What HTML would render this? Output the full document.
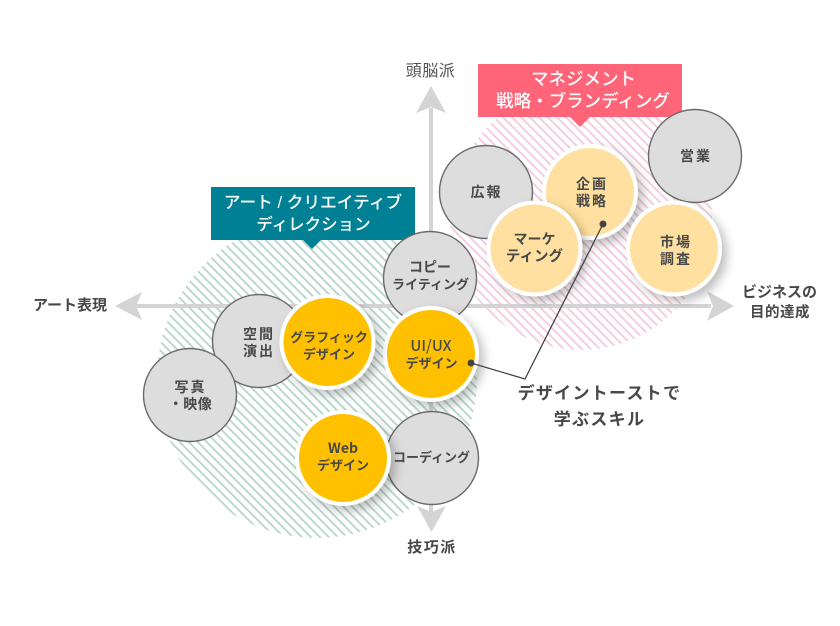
<!DOCTYPE html>
<html><head><meta charset="utf-8">
<style>
html,body{margin:0;padding:0;background:#fff;width:840px;height:626px;overflow:hidden}
svg{display:block}
text{font-family:"Liberation Sans","Noto Sans CJK JP",sans-serif;text-anchor:middle;fill:#484848;font-weight:700;font-size:14px}
.n{font-family:"Noto Sans CJK JP","Liberation Sans",sans-serif}
.w{fill:#fff;font-weight:500}
.s{font-size:13px}
.g{fill:#ddd;stroke:#6a6a6a;stroke-width:1.4}
.y{fill:#ffc000;stroke:#fff;stroke-width:4;filter:url(#s)}
.l{fill:#ffe0a0;stroke:#fff;stroke-width:4;filter:url(#s)}
</style></head><body>
<svg width="840" height="626" viewBox="0 0 840 626" xmlns="http://www.w3.org/2000/svg">
<defs>
<pattern id="pk" width="6.364" height="6.364" patternUnits="userSpaceOnUse" patternTransform="rotate(45)"><rect width="6.364" height="6.364" fill="#fff"/><rect width="6.364" height="1.800" fill="#f3cbdc"/></pattern>
<pattern id="gr" width="6.364" height="6.364" patternUnits="userSpaceOnUse" patternTransform="rotate(45)"><rect width="6.364" height="6.364" fill="#fff"/><rect width="6.364" height="1.800" fill="#b4d6cb"/></pattern>
<filter id="s" x="-30%" y="-30%" width="170%" height="170%"><feDropShadow dx="5" dy="5" stdDeviation="5" flood-color="#000" flood-opacity=".25"/></filter>
</defs>
<circle cx="581" cy="219" r="131" fill="url(#pk)"/>
<circle cx="317" cy="378" r="160" fill="url(#gr)"/>
<g fill="#d4d4d4">
<rect x="136" y="304" width="575" height="4"/>
<rect x="429" y="108" width="4" height="404"/>
<path d="M734 306L707 291L713 306L707 321Z"/>
<path d="M115 306L142 292L136 306L142 320Z"/>
<path d="M431 86L416 113L431 107L446 113Z"/>
<path d="M431.500 532L417 506L431.500 512L446 506Z"/>
</g>
<path d="M478 64H682V117H590L580 127L570 117H478Z" fill="#ff6478"/>
<path d="M211 187H415V240H321L312 249L303 240H211Z" fill="#008094"/>
<text class="w" style="font-size:17.500px" x="583.500" y="85">マネジメント</text>
<text class="w" style="font-size:17.500px" x="583" y="107">戦略・ブランディング</text>
<text class="w" style="font-size:16.700px" x="313" y="208">アート / クリエイティブ</text>
<text class="w" style="font-size:16.500px" x="313.500" y="230">ディレクション</text>
<circle class="g" cx="486" cy="192" r="46.500"/>
<circle class="g" cx="695" cy="156" r="46.500"/>
<circle class="l" cx="590" cy="192" r="46"/>
<circle class="l" cx="534.500" cy="248.500" r="46"/>
<circle class="l" cx="674" cy="248.500" r="46"/>
<circle class="g" cx="430" cy="278" r="46.500"/>
<circle class="y" cx="431" cy="354" r="46"/>
<circle class="g" cx="259" cy="341" r="46.500"/>
<circle class="y" cx="327.500" cy="342" r="46"/>
<circle class="g" cx="190" cy="395" r="46.500"/>
<circle class="g" cx="432" cy="458" r="46.500"/>
<circle class="y" cx="343" cy="458" r="46"/>
<path d="M603 224L525 379L471 363" fill="none" stroke="#444" stroke-width="1.300"/>
<circle cx="603" cy="224" r="3.500" fill="#444"/>
<circle cx="471" cy="363" r="3.500" fill="#444"/>
<text x="486.500" y="197" letter-spacing="2">広報</text>
<text x="696" y="161" letter-spacing="2">営業</text>
<text x="592" y="189" letter-spacing="2">企画</text>
<text x="592" y="206" letter-spacing="2">戦略</text>
<text x="534.500" y="244">マーケ</text>
<text x="534.500" y="261" style="font-size:14.500px">ティング</text>
<text x="676" y="247" letter-spacing="2">市場</text>
<text x="676" y="264" letter-spacing="2">調査</text>
<text x="430" y="272">コピー</text>
<text x="430.500" y="289" class="s">ライティング</text>
<text class="n" x="431" y="351" style="font-size:15px;font-weight:500">UI/UX</text>
<text x="431.500" y="368" class="s">デザイン</text>
<text x="259" y="339" letter-spacing="2">空間</text>
<text x="259" y="356" letter-spacing="2">演出</text>
<text x="329" y="342" class="s">グラフィック</text>
<text x="329" y="359" class="s">デザイン</text>
<text x="190.500" y="392" letter-spacing="2">写真</text>
<text x="190.500" y="409" letter-spacing=".5">・映像</text>
<text class="n" x="343" y="453">Web</text>
<text x="343" y="470" class="s">デザイン</text>
<text x="431.500" y="462" class="s">コーディング</text>
<text x="430.500" y="76" style="font-size:16px;font-weight:400;fill:#555" letter-spacing=".5">頭脳派</text>
<text x="432" y="552" style="font-size:15px" letter-spacing="1.500">技巧派</text>
<text x="70" y="310" style="font-size:15px">アート表現</text>
<text x="779.500" y="297" style="font-size:15px">ビジネスの</text>
<text x="780" y="317" style="font-size:14.500px" letter-spacing=".5">目的達成</text>
<text x="599.500" y="399" style="font-size:17px" letter-spacing="1.300">デザイントーストで</text>
<text x="599.500" y="425" style="font-size:17px" letter-spacing="1.300">学ぶスキル</text>
</svg>
</body></html>
